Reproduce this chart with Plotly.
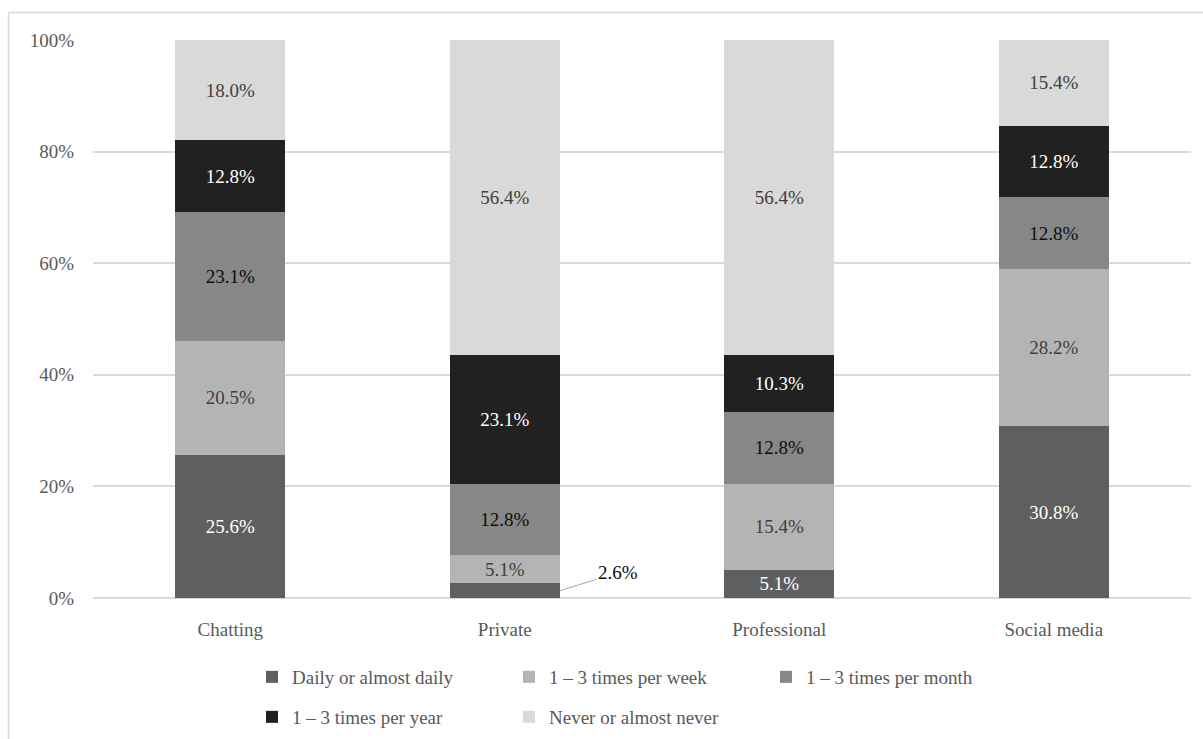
import plotly.graph_objects as go

# Share of respondents (%) by usage context and frequency
categories = ["Chatting", "Private", "Professional", "Social media"]
series_names = [
    "Daily or almost daily",
    "1 – 3 times per week",
    "1 – 3 times per month",
    "1 – 3 times per year",
    "Never or almost never",
]
daily = [25.6, 2.6, 5.1, 30.8]
weekly = [20.5, 5.1, 15.4, 28.2]
monthly = [23.1, 12.8, 12.8, 12.8]
yearly = [12.8, 23.1, 10.3, 12.8]
never = [18.0, 56.4, 56.4, 15.4]

series_values = [daily, weekly, monthly, yearly, never]
fill_colors = ["#5f5f5f", "#b4b4b4", "#878787", "#212121", "#d9d9d9"]
label_colors = ["#ffffff", "#404040", "#0d0d0d", "#ffffff", "#404040"]
legend_ids = ["legend", "legend", "legend", "legend2", "legend2"]

FONT = "Liberation Serif, DejaVu Serif, serif"
LABEL_SIZE = 19

# Values too small to carry an inside label get a callout instead
callout_min = 3.0

fig = go.Figure()
for name, vals, fc, lc, lg in zip(series_names, series_values, fill_colors, label_colors, legend_ids):
    texts = [f"{v:.1f}%" if v >= callout_min else "" for v in vals]
    fig.add_trace(go.Bar(
        x=categories,
        y=vals,
        name=name,
        marker=dict(color=fc, line=dict(width=0)),
        text=texts,
        texttemplate="%{text}",
        textposition="inside",
        insidetextanchor="middle",
        textangle=0,
        constraintext="none",
        insidetextfont=dict(family=FONT, size=LABEL_SIZE, color=lc),
        hoverinfo="skip",
        legend=lg,
        cliponaxis=False,
    ))

# Callout labels for thin segments
for name, vals in zip(series_names, series_values):
    for cat, v in zip(categories, vals):
        if v < callout_min:
            fig.add_annotation(
                x=cat, y=v / 2, xref="x", yref="y",
                xshift=55,
                text=f"{v:.1f}%",
                showarrow=True, arrowhead=0, arrowwidth=1, arrowcolor="#a6a6a6",
                ax=58, ay=-18, xanchor="center",
                font=dict(family=FONT, size=LABEL_SIZE, color="#0d0d0d"),
            )

W, H = 1203, 739
ML, MR, MT, MB = 93, 12, 40, 141
pw, ph = W - ML - MR, H - MT - MB

# Outer chart frame: only the top and left edges lie inside the page
frame_left = (8.5 - ML) / pw
frame_top = (H - MB - 12.5) / ph
frame_bottom = -(H + 30 - MT - ph) / ph
frame_right = (W + 30 - ML) / pw
frame_line = dict(color="#d9d9d9", width=1.5)
fig.add_shape(type="line", xref="paper", yref="paper",
              x0=frame_left, x1=frame_right, y0=frame_top, y1=frame_top,
              line=frame_line, layer="below")
fig.add_shape(type="line", xref="paper", yref="paper",
              x0=frame_left, x1=frame_left, y0=frame_bottom, y1=frame_top,
              line=frame_line, layer="below")

legend_common = dict(
    orientation="h",
    xanchor="left", yanchor="middle",
    font=dict(family=FONT, size=19, color="#595959"),
    bgcolor="rgba(0,0,0,0)",
    itemwidth=30,
    entrywidth=212,
    tracegroupgap=0,
    traceorder="normal",
)

fig.update_layout(
    width=W, height=H,
    margin=dict(l=ML, r=MR, t=MT, b=MB, autoexpand=False),
    barmode="stack",
    bargap=0.6,
    plot_bgcolor="white",
    paper_bgcolor="white",
    font=dict(family=FONT, color="#595959"),
    showlegend=True,
    legend=dict(x=(252 - ML) / pw, y=(MT + ph - 677) / ph, **legend_common),
    legend2=dict(x=(252 - ML) / pw, y=(MT + ph - 717) / ph, **legend_common),
    uniformtext=dict(minsize=LABEL_SIZE, mode="show"),
    xaxis=dict(
        showgrid=False, showline=False, ticks="",
        tickfont=dict(family=FONT, size=19, color="#595959"),
        ticklabelstandoff=18,
    ),
    yaxis=dict(
        range=[0, 100],
        tickvals=[0, 20, 40, 60, 80, 100],
        ticktext=["0%", "20%", "40%", "60%", "80%", "100%"],
        showgrid=True, gridcolor="#d9d9d9", gridwidth=1.5,
        zeroline=True, zerolinecolor="#d9d9d9", zerolinewidth=1.5,
        showline=False, ticks="",
        tickfont=dict(family=FONT, size=19, color="#595959"),
        ticklabelstandoff=18,
    ),
)

fig.write_html("out.html")
